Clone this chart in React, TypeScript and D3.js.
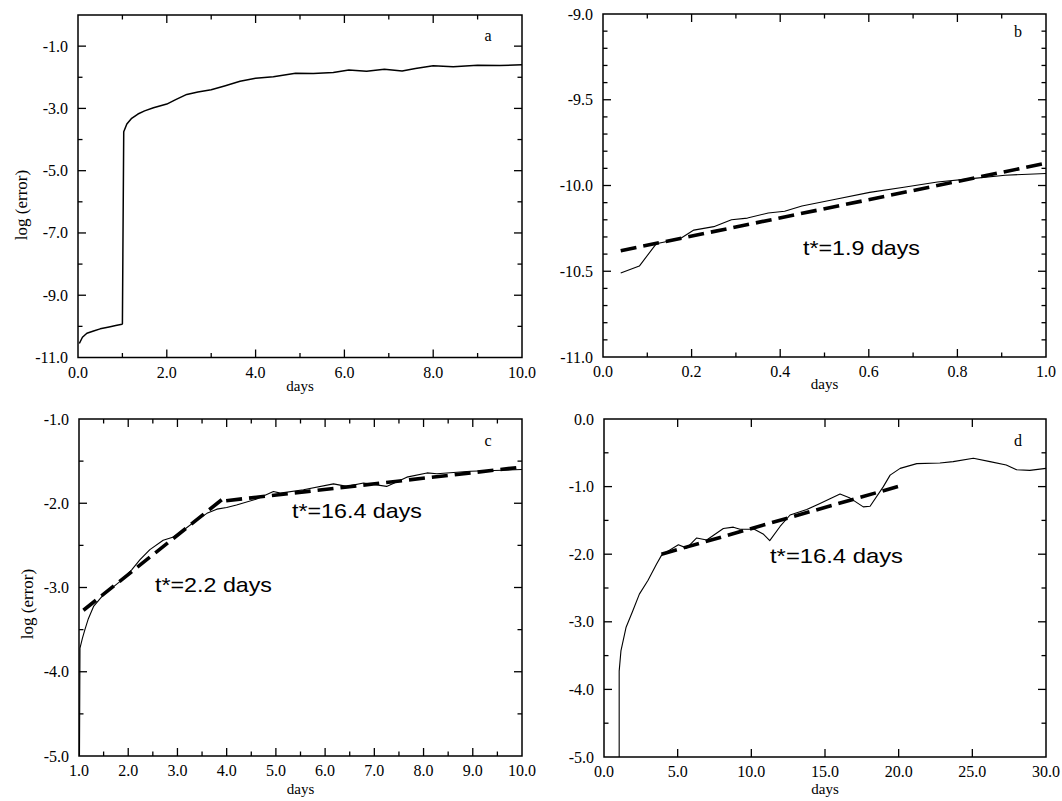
import React from "react";
import * as d3 from "d3";

// ---------- Panel a ----------
const aDays = [0.03, 0.1, 0.2, 0.35, 0.5, 0.7, 0.85, 0.99, 1.0, 1.03, 1.1, 1.2, 1.35, 1.5, 1.7, 2.0, 2.2, 2.45, 2.7, 3.0, 3.3, 3.65, 4.0, 4.4, 4.9, 5.3, 5.75, 6.1, 6.5, 6.9, 7.3, 7.6, 8.0, 8.45, 9.0, 9.5, 10.0];
const aLogErr = [-10.55, -10.35, -10.22, -10.15, -10.08, -10.02, -9.97, -9.93, -9.92, -3.75, -3.5, -3.33, -3.18, -3.08, -2.98, -2.86, -2.72, -2.55, -2.47, -2.4, -2.28, -2.13, -2.03, -1.98, -1.87, -1.88, -1.85, -1.77, -1.81, -1.74, -1.8, -1.72, -1.63, -1.66, -1.61, -1.62, -1.6];
const aXMajor = [0, 2, 4, 6, 8, 10];
const aXMinor = [1, 3, 5, 7, 9];
const aYMajor = [-11, -9, -7, -5, -3, -1];
const aYMinor = [-10, -8, -6, -4, -2];

// ---------- Panel b ----------
const bDays = [0.04, 0.082, 0.12, 0.174, 0.205, 0.25, 0.29, 0.326, 0.373, 0.41, 0.449, 0.525, 0.602, 0.679, 0.755, 0.832, 0.908, 1.0];
const bLogErr = [-10.51, -10.47, -10.34, -10.31, -10.26, -10.24, -10.2, -10.19, -10.16, -10.15, -10.12, -10.08, -10.04, -10.01, -9.98, -9.96, -9.94, -9.93];
const bFitDays = [0.04, 1.0];
const bFitLogErr = [-10.38, -9.87];
const bXMajor = [0, 0.2, 0.4, 0.6, 0.8, 1.0];
const bXMinor = [0.1, 0.3, 0.5, 0.7, 0.9];
const bYMajor = [-11, -10.5, -10, -9.5, -9];
const bYMinor = [-10.9, -10.8, -10.7, -10.6, -10.4, -10.3, -10.2, -10.1, -9.9, -9.8, -9.7, -9.6, -9.4, -9.3, -9.2, -9.1];

// ---------- Panel c ----------
const cDays = [1.01, 1.02, 1.07, 1.12, 1.19, 1.3, 1.49, 1.83, 2.07, 2.24, 2.44, 2.71, 2.92, 3.12, 3.39, 3.6, 3.8, 4.0, 4.2, 4.61, 4.95, 5.09, 5.56, 6.17, 6.44, 6.78, 7.25, 7.66, 8.07, 8.27, 8.95, 10.0];
const cLogErr = [-5.0, -3.72, -3.6, -3.5, -3.37, -3.22, -3.09, -2.93, -2.79, -2.67, -2.55, -2.44, -2.4, -2.32, -2.2, -2.12, -2.07, -2.05, -2.02, -1.95, -1.86, -1.88, -1.84, -1.77, -1.8, -1.76, -1.8, -1.69, -1.64, -1.65, -1.62, -1.6];
const cFit1Days = [1.09, 3.94];
const cFit1LogErr = [-3.27, -1.94];
const cFit2Days = [3.99, 10.0];
const cFit2LogErr = [-1.97, -1.57];
const cXMajor = [1, 2, 3, 4, 5, 6, 7, 8, 9, 10];
const cXMinor = [1.5, 2.5, 3.5, 4.5, 5.5, 6.5, 7.5, 8.5, 9.5];
const cYMajor = [-5, -4, -3, -2, -1];
const cYMinor = [-4.5, -3.5, -2.5, -1.5];

// ---------- Panel d ----------
const dDays = [1.03, 1.03, 1.15, 1.5, 1.95, 2.4, 2.98, 3.56, 3.92, 5.05, 5.61, 6.29, 6.97, 8.1, 8.78, 9.23, 10.2, 10.8, 11.25, 11.95, 12.63, 13.76, 14.66, 16.02, 16.7, 17.6, 18.06, 18.96, 19.42, 20.1, 21.23, 22.8, 23.7, 25.07, 26.2, 27.3, 28.0, 28.9, 30.0];
const dLogErr = [-5.0, -3.73, -3.43, -3.08, -2.84, -2.59, -2.39, -2.15, -2.01, -1.86, -1.91, -1.76, -1.79, -1.62, -1.6, -1.63, -1.63, -1.7, -1.8, -1.59, -1.42, -1.34, -1.25, -1.11, -1.17, -1.3, -1.29, -1.0, -0.83, -0.73, -0.66, -0.65, -0.63, -0.58, -0.63, -0.68, -0.75, -0.76, -0.73];
const dFitDays = [3.9, 20.1];
const dFitLogErr = [-2.0, -0.99];
const dXMajor = [0, 5, 10, 15, 20, 25, 30];
const dXMinor: number[] = [];
const dYMajor = [-5, -4, -3, -2, -1, 0];
const dYMinor = [-4.5, -3.5, -2.5, -1.5, -0.5];

const xTitle = "days";
const yTitle = "log (error)";

type Ann = { text: string; x: number; y: number; w: number };
type PanelCfg = {
  left: number; right: number; top: number; bottom: number;
  xDomain: [number, number]; yDomain: [number, number];
  xMajor: number[]; xMinor: number[]; yMajor: number[]; yMinor: number[];
  solid: { x: number[]; y: number[]; w: number };
  dashed: { x: number[]; y: number[] }[];
  letter: string; letterX: number; letterY: number;
  xTitleY: number;
  yTitleX?: number; yTitleY?: number;
  anns: Ann[];
};

const serif = "'Liberation Serif', 'Times New Roman', serif";
const sans = "'Liberation Sans', Arial, sans-serif";
const fmt = (v: number) => v.toFixed(1);

const panels: PanelCfg[] = [
  {
    left: 78, right: 522, top: 15, bottom: 357.5,
    xDomain: [0, 10], yDomain: [-11, 0],
    xMajor: aXMajor, xMinor: aXMinor, yMajor: aYMajor, yMinor: aYMinor,
    solid: { x: aDays, y: aLogErr, w: 1.5 }, dashed: [],
    letter: "a", letterX: 488, letterY: 41, xTitleY: 391,
    yTitleX: 21, yTitleY: 205, anns: [],
  },
  {
    left: 603, right: 1046, top: 14, bottom: 357,
    xDomain: [0, 1], yDomain: [-11, -9],
    xMajor: bXMajor, xMinor: bXMinor, yMajor: bYMajor, yMinor: bYMinor,
    solid: { x: bDays, y: bLogErr, w: 1.1 }, dashed: [{ x: bFitDays, y: bFitLogErr }],
    letter: "b", letterX: 1018, letterY: 37, xTitleY: 389,
    anns: [{ text: "t*=1.9 days", x: 803, y: 255, w: 117 }],
  },
  {
    left: 79, right: 522, top: 419, bottom: 756,
    xDomain: [1, 10], yDomain: [-5, -1],
    xMajor: cXMajor, xMinor: cXMinor, yMajor: cYMajor, yMinor: cYMinor,
    solid: { x: cDays, y: cLogErr, w: 1.1 },
    dashed: [{ x: cFit1Days, y: cFit1LogErr }, { x: cFit2Days, y: cFit2LogErr }],
    letter: "c", letterX: 488, letterY: 446, xTitleY: 794,
    yTitleX: 27, yTitleY: 604,
    anns: [
      { text: "t*=2.2 days", x: 155, y: 592, w: 117 },
      { text: "t*=16.4 days", x: 292, y: 518, w: 130 },
    ],
  },
  {
    left: 604, right: 1046, top: 419, bottom: 757,
    xDomain: [0, 30], yDomain: [-5, 0],
    xMajor: dXMajor, xMinor: dXMinor, yMajor: dYMajor, yMinor: dYMinor,
    solid: { x: dDays, y: dLogErr, w: 1.1 }, dashed: [{ x: dFitDays, y: dFitLogErr }],
    letter: "d", letterX: 1018, letterY: 446, xTitleY: 794,
    anns: [{ text: "t*=16.4 days", x: 770, y: 563, w: 133 }],
  },
];

function Panel({ p }: { p: PanelCfg }) {
  const x = d3.scaleLinear().domain(p.xDomain).range([p.left, p.right]);
  const y = d3.scaleLinear().domain(p.yDomain).range([p.bottom, p.top]);
  const line = d3.line<[number, number]>().x((d) => x(d[0])).y((d) => y(d[1]));
  const pts = (xs: number[], ys: number[]) => xs.map((v, i) => [v, ys[i]] as [number, number]);
  const MAJ = 8, MIN = 4.5;
  const inner = (v: number, dom: [number, number]) => v > dom[0] + 1e-9 && v < dom[1] - 1e-9;
  const ticks: JSX.Element[] = [];
  const addX = (vals: number[], len: number, k: string) =>
    vals.filter((v) => inner(v, p.xDomain)).forEach((v, i) => {
      ticks.push(<line key={`xb${k}${i}`} x1={x(v)} x2={x(v)} y1={p.bottom} y2={p.bottom - len} />);
      ticks.push(<line key={`xt${k}${i}`} x1={x(v)} x2={x(v)} y1={p.top} y2={p.top + len} />);
    });
  const addY = (vals: number[], len: number, k: string) =>
    vals.filter((v) => inner(v, p.yDomain)).forEach((v, i) => {
      ticks.push(<line key={`yl${k}${i}`} x1={p.left} x2={p.left + len} y1={y(v)} y2={y(v)} />);
      ticks.push(<line key={`yr${k}${i}`} x1={p.right} x2={p.right - len} y1={y(v)} y2={y(v)} />);
    });
  addX(p.xMajor, MAJ, "M");
  addX(p.xMinor, MIN, "m");
  addY(p.yMajor, MAJ, "M");
  addY(p.yMinor, MIN, "m");
  return (
    <g>
      <g stroke="#000" strokeWidth={1.3}>{ticks}</g>
      <rect x={p.left} y={p.top} width={p.right - p.left} height={p.bottom - p.top}
        fill="none" stroke="#000" strokeWidth={1.5} />
      <path d={line(pts(p.solid.x, p.solid.y)) || ""} fill="none" stroke="#000"
        strokeWidth={p.solid.w} strokeLinejoin="round" />
      {p.dashed.map((s, i) => (
        <path key={i} d={line(pts(s.x, s.y)) || ""} fill="none" stroke="#000"
          strokeWidth={3.6} strokeDasharray="16,7" />
      ))}
      <g fontFamily={serif} fontSize={16} fill="#000">
        {p.xMajor.map((v, i) => (
          <text key={`xl${i}`} x={x(v)} y={p.bottom + 20} textAnchor="middle">{fmt(v)}</text>
        ))}
        {p.yMajor.map((v, i) => (
          <text key={`yl${i}`} x={p.left - 10} y={y(v) + 5.5} textAnchor="end">{fmt(v)}</text>
        ))}
        <text x={(p.left + p.right) / 2} y={p.xTitleY} textAnchor="middle" fontSize={15}>{xTitle}</text>
        {p.yTitleX !== undefined && (
          <text transform={`translate(${p.yTitleX},${p.yTitleY}) rotate(-90)`} textAnchor="middle"
            dy="0.35em" fontSize={17}>{yTitle}</text>
        )}
        <text x={p.letterX} y={p.letterY} textAnchor="middle" fontSize={16}>{p.letter}</text>
      </g>
      <g fontFamily={sans} fontSize={21} fill="#000">
        {p.anns.map((a, i) => (
          <text key={i} x={a.x} y={a.y} textLength={a.w} lengthAdjust="spacingAndGlyphs">{a.text}</text>
        ))}
      </g>
    </g>
  );
}

export default function App() {
  return (
    <svg width={1062} height={801} viewBox="0 0 1062 801"
      style={{ position: "absolute", left: 0, top: 0, background: "#fff" }}>
      {panels.map((p, i) => <Panel key={i} p={p} />)}
    </svg>
  );
}
